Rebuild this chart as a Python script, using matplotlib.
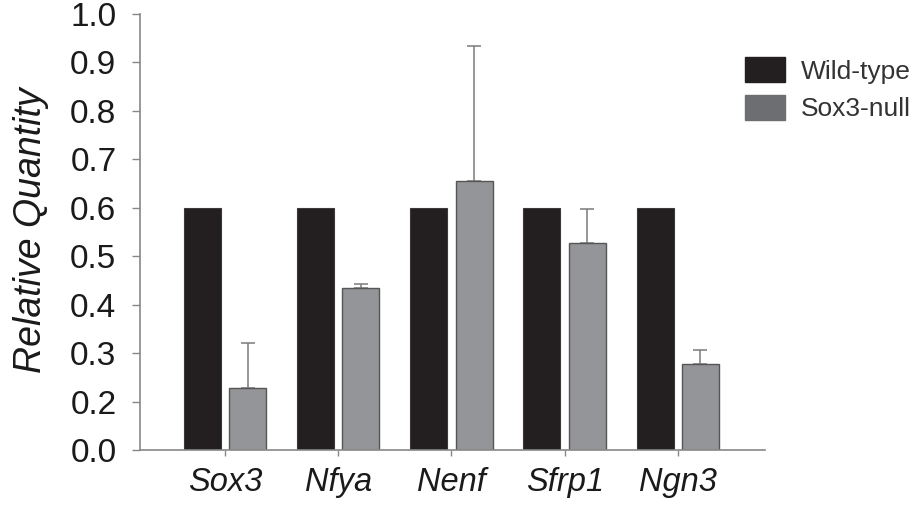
import matplotlib
matplotlib.use("Agg")
import matplotlib.pyplot as plt
import numpy as np
from matplotlib.patches import Patch

genes = ["Sox3", "Nfya", "Nenf", "Sfrp1", "Ngn3"]
wild_type = [0.6, 0.6, 0.6, 0.6, 0.6]
sox3_null = [0.227, 0.435, 0.656, 0.528, 0.278]
sox3_null_err_top = [0.32, 0.442, 0.934, 0.598, 0.307]
ytick_values = [0.1, 0.2, 0.3, 0.4, 0.5, 0.6, 0.7, 0.8, 0.9, 1.0]
ytick_labels = ["0.0", "0.2", "0.3", "0.4", "0.5", "0.6", "0.7", "0.8", "0.9", "1.0"]
series_labels = ["Wild-type", "Sox3-null"]

plt.rcParams['font.family'] = ['Liberation Sans', 'DejaVu Sans']

fig = plt.figure(figsize=(9.15, 5.09), dpi=100)
ax = fig.add_axes([140/915, 1-450/509, (765-140)/915, (450-14)/509])

x = np.arange(len(genes))
w = 0.327
off = 0.2
wt_col = "#231f20"
null_col = "#939598"

ax.bar(x - off, wild_type, width=w, color=wt_col, edgecolor="#3a3a3a", linewidth=0.8, zorder=2)
ax.bar(x + off, sox3_null, width=w, color=null_col, edgecolor="#555555", linewidth=1.0, zorder=2)
upper = np.array(sox3_null_err_top) - np.array(sox3_null)
ax.errorbar(x + off, sox3_null, yerr=[np.zeros(len(genes)), upper], fmt='none',
            ecolor="#7a7a7a", elinewidth=1.1, capsize=5, capthick=1.1, zorder=1)

ax.set_xlim(-0.75, 4.77)
ax.set_ylim(0.1, 1.0)
ax.set_yticks(ytick_values)
ax.set_yticklabels(ytick_labels)
ax.set_xticks(x)
ax.set_xticklabels(genes, fontstyle='italic')

for s in ["top", "right"]:
    ax.spines[s].set_visible(False)
for s in ["left", "bottom"]:
    ax.spines[s].set_color("#888888")
    ax.spines[s].set_linewidth(1.2)

ax.tick_params(axis='y', direction='out', length=6, width=1, color="#888888",
               labelsize=24, pad=11, labelcolor="#1a1a1a")
ax.tick_params(axis='x', direction='out', length=4, width=1, color="#888888",
               labelsize=23.5, pad=8, labelcolor="#1a1a1a")

fig.text(31/915, 1-230/509, "Relative Quantity", rotation=90, fontsize=27,
         fontstyle='italic', ha='center', va='center', color="#1a1a1a")

handles = [Patch(facecolor=wt_col, edgecolor=wt_col),
           Patch(facecolor="#6d6e71", edgecolor="#6d6e71")]
fig.legend(handles, series_labels, loc='upper left', bbox_to_anchor=(745/915, 1-57/509),
           frameon=False, fontsize=19, handlelength=1.52, handleheight=1.1,
           handletextpad=0.6, labelspacing=0.42, borderpad=0, borderaxespad=0,
           labelcolor="#333333")

fig.savefig("out.png", dpi=100)
